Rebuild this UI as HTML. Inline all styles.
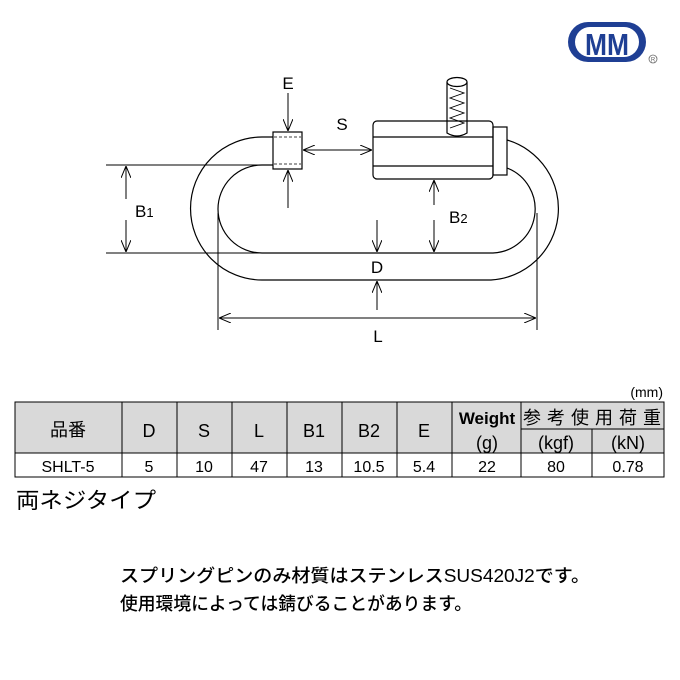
<!DOCTYPE html>
<html><head><meta charset="utf-8"><style>
html,body{margin:0;padding:0;background:#fff;}
svg{display:block;}
text{font-family:"Liberation Sans","Noto Sans CJK JP",sans-serif;fill:#000;}
</style></head><body>
<svg width="680" height="680" viewBox="0 0 680 680" xmlns="http://www.w3.org/2000/svg">
<defs>
<marker id="a" viewBox="0 0 12 10" refX="12" refY="5" markerWidth="12" markerHeight="10" orient="auto" markerUnits="userSpaceOnUse">
<path d="M0,0 L12,5 L0,10" fill="none" stroke="#000" stroke-width="1"/>
</marker>
</defs>
<!-- logo -->
<rect x="568" y="22" width="78" height="40" rx="20" fill="#1f3f94"/>
<rect x="575" y="27" width="64" height="30" rx="15" fill="#fff"/>
<text x="607" y="55" font-size="31" font-weight="bold" text-anchor="middle" fill="#1f3f94" style="fill:#1f3f94" textLength="44" lengthAdjust="spacingAndGlyphs">MM</text>
<circle cx="653" cy="59" r="4" fill="none" stroke="#666" stroke-width="0.8"/>
<text x="653" y="61.5" font-size="6" text-anchor="middle" style="fill:#666">R</text>

<g fill="none" stroke="#000" stroke-width="1.2">
<path d="M273,137 L262,137 A71.5,71.5 0 0 0 262,280 L491,280 A71.5,71.5 0 0 0 507,140"/>
<path d="M273,165 L262,165 A44,44 0 0 0 262,253 L493,253 A44,44 0 0 0 507,168"/>
<rect x="273" y="132" width="29" height="37"/>
<rect x="373" y="121" width="120" height="58" rx="4"/>
<line x1="373" y1="137" x2="493" y2="137"/>
<line x1="373" y1="166" x2="493" y2="166"/>
<rect x="493" y="127" width="14" height="48"/>
<path d="M447,82 L447,133 Q457,139 467,133 L467,82"/>
<ellipse cx="457" cy="82" rx="10" ry="4.5"/>
<polyline stroke-width="0.9" points="450,88 464,93 450,98 464,103 450,108 464,113 450,118 464,123 450,128"/>
</g>
<g stroke="#000" stroke-width="0.8" stroke-dasharray="3,2">
<line x1="274" y1="137" x2="301" y2="137"/><line x1="274" y1="164" x2="301" y2="164"/>
</g>
<g stroke="#000" stroke-width="1" fill="none">
<line x1="106" y1="165" x2="273" y2="165"/>
<line x1="106" y1="253" x2="262" y2="253"/>
<line x1="126" y1="199" x2="126" y2="166" marker-end="url(#a)"/>
<line x1="126" y1="220" x2="126" y2="252" marker-end="url(#a)"/>
<line x1="288" y1="93" x2="288" y2="131" marker-end="url(#a)"/>
<line x1="288" y1="208" x2="288" y2="170" marker-end="url(#a)"/>
<line x1="337" y1="150" x2="303" y2="150" marker-end="url(#a)"/>
<line x1="337" y1="150" x2="372" y2="150" marker-end="url(#a)"/>
<line x1="434" y1="205" x2="434" y2="180" marker-end="url(#a)"/>
<line x1="434" y1="220" x2="434" y2="252" marker-end="url(#a)"/>
<line x1="377" y1="220" x2="377" y2="252" marker-end="url(#a)"/>
<line x1="377" y1="310" x2="377" y2="281" marker-end="url(#a)"/>
<line x1="218" y1="213" x2="218" y2="330"/>
<line x1="537" y1="213" x2="537" y2="330"/>
<line x1="378" y1="318" x2="219" y2="318" marker-end="url(#a)"/>
<line x1="378" y1="318" x2="536" y2="318" marker-end="url(#a)"/>
</g>
<text x="288" y="89" font-size="17" text-anchor="middle">E</text>
<text x="342" y="130" font-size="17" text-anchor="middle">S</text>
<text x="135" y="217" font-size="17">B<tspan font-size="13">1</tspan></text>
<text x="449" y="223" font-size="17">B<tspan font-size="13">2</tspan></text>
<text x="377" y="273" font-size="17" text-anchor="middle">D</text>
<text x="378" y="342" font-size="17" text-anchor="middle">L</text>

<text x="663" y="397" font-size="14" text-anchor="end">(mm)</text>
<rect x="15" y="402" width="649" height="51" fill="#d9d9d9"/>
<g stroke="#000" stroke-width="1" fill="none">
<rect x="15" y="402" width="649" height="75"/>
<line x1="15" y1="453" x2="664" y2="453"/>
<line x1="521" y1="429" x2="664" y2="429"/>
<line x1="122" y1="402" x2="122" y2="477"/>
<line x1="177" y1="402" x2="177" y2="477"/>
<line x1="232" y1="402" x2="232" y2="477"/>
<line x1="287" y1="402" x2="287" y2="477"/>
<line x1="342" y1="402" x2="342" y2="477"/>
<line x1="397" y1="402" x2="397" y2="477"/>
<line x1="452" y1="402" x2="452" y2="477"/>
<line x1="521" y1="402" x2="521" y2="477"/>
<line x1="592" y1="429" x2="592" y2="477"/>
</g>
<g font-size="18" text-anchor="middle">
<text x="68" y="436">品番</text>
<text x="149" y="437">D</text>
<text x="204" y="437">S</text>
<text x="259" y="437">L</text>
<text x="314" y="437">B1</text>
<text x="369" y="437">B2</text>
<text x="424" y="437">E</text>
<text x="487" y="424" font-weight="bold" font-size="17">Weight</text>
<text x="487" y="449">(g)</text>
<text x="592" y="424" textLength="138">参考使用荷重</text>
<text x="556" y="449">(kgf)</text>
<text x="628" y="449">(kN)</text>
</g>
<g font-size="16" text-anchor="middle">
<text x="68" y="472">SHLT-5</text>
<text x="149" y="472">5</text>
<text x="204" y="472">10</text>
<text x="259" y="472">47</text>
<text x="314" y="472">13</text>
<text x="369" y="472">10.5</text>
<text x="424" y="472">5.4</text>
<text x="487" y="472">22</text>
<text x="556" y="472">80</text>
<text x="628" y="472">0.78</text>
</g>
<text x="16" y="508" font-size="22" textLength="140" lengthAdjust="spacingAndGlyphs">両ネジタイプ</text>
<text x="120" y="582" font-size="18" font-weight="bold" textLength="470" lengthAdjust="spacingAndGlyphs" style="font-weight:500">スプリングピンのみ材質はステンレスSUS420J2です。</text>
<text x="120" y="610" font-size="18" textLength="352" lengthAdjust="spacingAndGlyphs" style="font-weight:500">使用環境によっては錆びることがあります。</text>
</svg>
</body></html>
